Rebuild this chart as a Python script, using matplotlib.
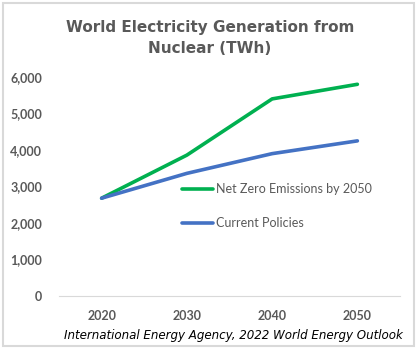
import matplotlib
matplotlib.use("Agg")
from matplotlib import pyplot as plt
from matplotlib.patches import Rectangle

years = ["2020", "2030", "2040", "2050"]
net_zero = [2680, 3860, 5400, 5800]
current = [2680, 3360, 3900, 4250]
yticks = [0, 1000, 2000, 3000, 4000, 5000, 6000]

GRAY = "#595959"

fig = plt.figure(figsize=(4.2, 3.5), dpi=100)
ax = fig.add_axes([59 / 420, 1 - 296 / 350, (400 - 59) / 420, (296 - 77) / 350])

x = range(len(years))
ax.plot(x, net_zero, color="#00B050", lw=2.6, solid_capstyle="round",
        label="Net Zero Emissions by 2050")
ax.plot(x, current, color="#4472C4", lw=2.6, solid_capstyle="round",
        label="Current Policies")

ax.set_xlim(-0.5, 3.5)
ax.set_ylim(0, 6000)
ax.set_xticks(list(x))
ax.set_xticklabels(years)
ax.set_yticks(yticks)
ax.set_yticklabels([f"{v:,}" for v in yticks])
ax.tick_params(length=0, labelsize=9, labelcolor=GRAY)
ax.tick_params(axis="y", pad=12)
ax.tick_params(axis="x", pad=10)
for lab in ax.get_xticklabels() + ax.get_yticklabels():
    lab.set_family("Lato")
    lab.set_fontweight("bold")
for s in ["top", "right", "left"]:
    ax.spines[s].set_visible(False)
ax.spines["bottom"].set_color("#d9d9d9")

leg = ax.legend(loc="upper left", bbox_to_anchor=(182 / 420, 1 - 183 / 350),
                bbox_transform=fig.transFigure, frameon=False,
                prop={"family": "Lato", "size": 9},
                handlelength=2.5, handletextpad=0.2, labelspacing=1.75,
                borderpad=0, borderaxespad=0)
for t in leg.get_texts():
    t.set_color(GRAY)

fig.text(0.5, 1 - 38 / 350, "World Electricity Generation from\nNuclear (TWh)",
         ha="center", va="center", fontsize=11, fontweight="bold",
         color=GRAY, linespacing=1.55)
fig.text(403 / 420, 1 - 335 / 350,
         "International Energy Agency, 2022 World Energy Outlook",
         ha="right", va="center", fontsize=8.6, style="italic", color="black")

fig.add_artist(Rectangle((3 / 420, 4 / 350), 411 / 420, 343 / 350,
                         transform=fig.transFigure, fill=False,
                         edgecolor="#d9d9d9", lw=1.5))

fig.savefig("out.png", dpi=100)
